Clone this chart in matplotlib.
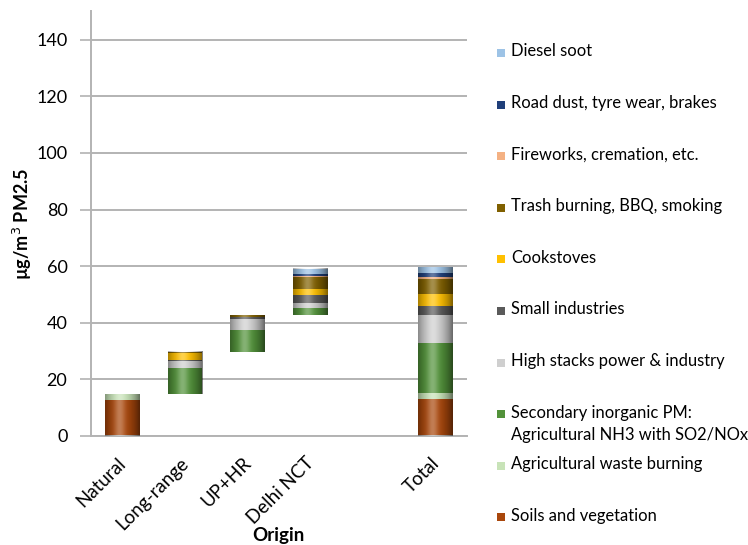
import numpy as np
import matplotlib
matplotlib.use("Agg")
import matplotlib.pyplot as plt
import matplotlib.transforms as mtransforms
from matplotlib.patches import Rectangle

plt.rcParams['font.family'] = ['Lato', 'DejaVu Sans']

categories = ['Natural', 'Long-range', 'UP+HR', 'Delhi NCT', '', 'Total']

# source contributions (µg/m3) per origin, bottom to top
soils       = [12.8, 0.0, 0.0, 0.0, 0.0, 13.2]
agwaste     = [1.9, 0.3, 0.0, 0.0, 0.0, 1.9]
secondary   = [0.0, 9.2, 7.6, 2.3, 0.0, 17.8]
highstacks  = [0.0, 2.4, 3.8, 1.8, 0.0, 9.9]
smallind    = [0.0, 0.3, 1.0, 2.8, 0.0, 3.2]
cookstoves  = [0.0, 2.3, 0.0, 2.1, 0.0, 4.2]
trash       = [0.0, 0.6, 0.6, 4.2, 0.0, 5.3]
fireworks   = [0.0, 0.0, 0.0, 0.4, 0.0, 0.5]
roaddust    = [0.0, 0.0, 0.0, 0.7, 0.0, 1.6]
diesel      = [0.0, 0.0, 0.0, 2.0, 0.0, 2.1]

series = [soils, agwaste, secondary, highstacks, smallind,
          cookstoves, trash, fireworks, roaddust, diesel]
labels = ['Soils and vegetation', 'Agricultural waste burning',
          'Secondary inorganic PM:\nAgricultural NH3 with SO2/NOx',
          'High stacks power & industry', 'Small industries', 'Cookstoves',
          'Trash burning, BBQ, smoking', 'Fireworks, cremation, etc.',
          'Road dust, tyre wear, brakes', 'Diesel soot']
colors = ['#a9470c', '#c8e3b8', '#52923a', '#cfcfcf', '#5a5a5a',
          '#ffc000', '#806000', '#f4b183', '#203f7a', '#9dc3e6']

yticks = [0, 20, 40, 60, 80, 100, 120, 140]

fig = plt.figure(figsize=(7.48, 5.45), dpi=100)
ax = fig.add_axes([0.1217, 0.2, 0.5027, 0.779])

data = np.array(series)
x = np.arange(len(categories))
bar_tot = data.sum(axis=0)
# waterfall bases: each origin stacks on the cumulative sum of the previous ones; total from 0
base = np.zeros(len(categories))
run = 0.0
for i, c in enumerate(categories):
    if c == 'Total' or c == '':
        base[i] = 0.0
    else:
        base[i] = run
        run += bar_tot[i]

width = 0.55
bottom = base.copy()
for vals, col, lab in zip(series, colors, labels):
    v = np.array(vals)
    mask = v > 0
    ax.bar(x[mask], v[mask], width, bottom=bottom[mask], color=col,
           zorder=2, linewidth=0)
    bottom += v

# cylindrical shading overlay
prof = np.linspace(0, 1, 64)
hi = np.exp(-((prof - 0.42) / 0.16) ** 2) * 0.30
sh = (np.abs(prof - 0.45) / 0.55) ** 2.0 * 0.50
rgba = np.zeros((1, 64, 4))
white = hi / (hi + sh + 1e-9)
rgba[0, :, 0] = white
rgba[0, :, 1] = white
rgba[0, :, 2] = white
rgba[0, :, 3] = np.clip(hi + sh, 0, 1)
for i in range(len(categories)):
    if bar_tot[i] > 0:
        ax.imshow(rgba, extent=[x[i] - width / 2, x[i] + width / 2,
                                base[i], base[i] + bar_tot[i]],
                  aspect='auto', interpolation='bilinear', zorder=3)

ax.set_xlim(-0.5, len(categories) - 0.5)
ax.set_ylim(0, 150)
ax.set_yticks(yticks)
ax.set_yticklabels([str(t) for t in yticks], fontsize=13)
ax.yaxis.grid(True, color='#b3b3b3', linewidth=1.4, zorder=0)
ax.set_axisbelow(True)
ax.tick_params(axis='y', length=8, color='#b3b3b3', width=1.2, pad=9)
ax.tick_params(axis='x', length=0, pad=13)
ax.set_xticks(x)
ax.set_xticklabels(categories, rotation=45, ha='right', va='top',
                   rotation_mode='anchor', fontsize=13.5)
shift = mtransforms.ScaledTranslation(-0.05, 0, fig.dpi_scale_trans)
for t in ax.get_xticklabels():
    t.set_transform(t.get_transform() + shift)
for s in ['top', 'right']:
    ax.spines[s].set_visible(False)
ax.spines['left'].set_color('#b3b3b3')
ax.spines['left'].set_linewidth(1.4)
ax.spines['bottom'].set_color('#b3b3b3')
ax.spines['bottom'].set_linewidth(1.4)

ax.set_ylabel('µg/m$^3$ PM2.5', fontsize=13, fontweight='bold')
ax.yaxis.set_label_coords(-0.152, 0.5)
fig.text(278 / 748, 1 - 535 / 545, 'Origin', fontsize=13.5, fontweight='bold',
         ha='center', va='center')

# legend (right side, top entry = last series)
W, H = 748.0, 545.0
y0, dy = 53.0, 51.6
for k, (lab, col) in enumerate(zip(labels[::-1], colors[::-1])):
    yc = y0 + k * dy
    fig.patches.append(Rectangle((497 / W, 1 - (yc + 4) / H), 8 / W, 8 / H,
                                 transform=fig.transFigure, facecolor=col,
                                 edgecolor='none'))
    fig.text(511 / W, 1 - (yc - 9.5) / H, lab, fontsize=11.9, ha='left',
             va='top', linespacing=1.5)

fig.savefig('out.png', dpi=100)
